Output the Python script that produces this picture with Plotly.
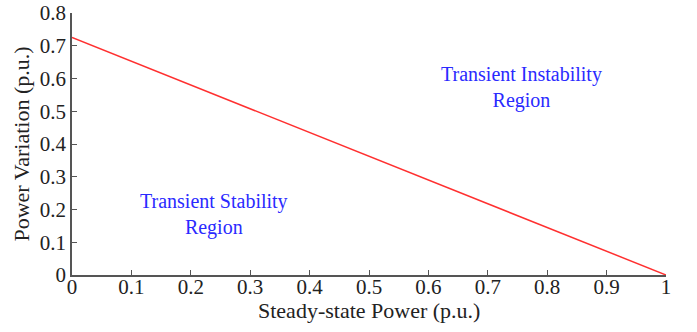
import plotly.graph_objects as go

steady_power = [0.0, 1.0]
power_variation = [0.725, 0.0]
x_ticks = [0, 0.1, 0.2, 0.3, 0.4, 0.5, 0.6, 0.7, 0.8, 0.9, 1]
x_tick_labels = ["0", "0.1", "0.2", "0.3", "0.4", "0.5", "0.6", "0.7", "0.8", "0.9", "1"]
y_ticks = [0, 0.1, 0.2, 0.3, 0.4, 0.5, 0.6, 0.7, 0.8]
y_tick_labels = ["0", "0.1", "0.2", "0.3", "0.4", "0.5", "0.6", "0.7", "0.8"]
region_labels = ["Transient Instability<br>Region", "Transient Stability<br>Region"]
region_x = [0.756, 0.239]
region_y = [0.574, 0.186]
x_title = "Steady-state Power (p.u.)"
y_title = "Power Variation (p.u.)"

font_family = "Liberation Serif, Times New Roman, serif"

fig = go.Figure()
fig.add_trace(go.Scatter(x=steady_power, y=power_variation, mode="lines",
                         line=dict(color="#ff3030", width=1.5), showlegend=False))

for t, xx, yy in zip(region_labels, region_x, region_y):
    fig.add_annotation(x=xx, y=yy, text=t, showarrow=False,
                       font=dict(family=font_family, size=20, color="#2a2aff"),
                       align="center")

# x-axis title placed as a paper annotation for exact vertical position
fig.add_annotation(x=0.5, y=-0.137, xref="paper", yref="paper", text=x_title,
                   showarrow=False, yanchor="middle", xanchor="center", borderpad=0,
                   font=dict(family=font_family, size=22, color="#222222"))

axis_common = dict(showgrid=False, zeroline=False, showline=True, linecolor="#555555",
                   linewidth=1.5, ticks="inside", ticklen=5, tickcolor="#555555",
                   tickfont=dict(family=font_family, size=21, color="#222222"),
                   mirror=False, automargin=False)

fig.update_xaxes(range=[0, 1], tickvals=x_ticks, ticktext=x_tick_labels,
                 ticklabelstandoff=-8, **axis_common)
fig.update_yaxes(range=[0, 0.8], tickvals=y_ticks, ticktext=y_tick_labels,
                 title=dict(text=y_title, standoff=4,
                            font=dict(family=font_family, size=22, color="#222222")),
                 **axis_common)

fig.update_layout(width=697, height=332, margin=dict(l=72, r=31, t=13, b=57),
                  plot_bgcolor="white", paper_bgcolor="white")

fig.write_html("out.html")
